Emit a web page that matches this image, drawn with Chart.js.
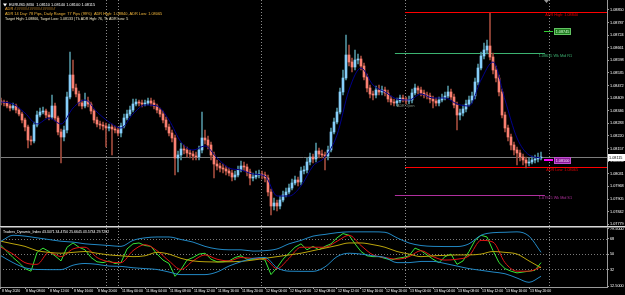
<!DOCTYPE html>
<html>
<head>
<meta charset="utf-8">
<title>EURUSD M30</title>
<script src="https://cdn.jsdelivr.net/npm/chart.js@4.4.1/dist/chart.umd.min.js"></script>
<style>
  html, body { margin: 0; padding: 0; background: #000; }
  #wrap { position: relative; width: 625px; height: 295px; overflow: hidden; background: #000; }
  canvas { position: absolute; left: 0; }
  #main { top: 0; }
  #tdi { top: 226px; }
</style>
</head>
<body>
<div id="wrap">
  <canvas id="main" width="625" height="226"></canvas>
  <canvas id="tdi" width="625" height="69"></canvas>
</div>
<script>
// ---- price bars (30 min), one entry per bar ----
const firstOpen = 1.08395;
const closes = [
  1.08390,1.08385,1.08370,1.08360,1.08370,1.08350,1.08330,1.08300,1.08265,1.08200,
  1.08195,1.08275,1.08325,1.08340,1.08345,1.08325,1.08315,1.08370,1.08310,1.08240,
  1.08215,1.08250,1.08415,1.08525,1.08460,1.08430,1.08385,1.08370,1.08395,1.08380,
  1.08345,1.08300,1.08280,1.08275,1.08270,1.08260,1.08265,1.08255,1.08250,1.08235,
  1.08270,1.08310,1.08330,1.08350,1.08380,1.08390,1.08385,1.08380,1.08385,1.08395,
  1.08385,1.08370,1.08350,1.08330,1.08300,1.08265,1.08235,1.08210,1.08110,1.08125,
  1.08155,1.08150,1.08135,1.08130,1.08120,1.08115,1.08150,1.08210,1.08200,1.08175,
  1.08125,1.08080,1.08070,1.08060,1.08055,1.08045,1.08035,1.08015,1.08025,1.08050,
  1.08070,1.08065,1.08040,1.08010,1.08015,1.08025,1.08030,1.08025,1.08010,1.07940,
  1.07870,1.07885,1.07870,1.07900,1.07925,1.07940,1.07960,1.07985,1.08000,1.07990,
  1.08045,1.08050,1.08090,1.08115,1.08105,1.08145,1.08130,1.08125,1.08120,1.08150,
  1.08240,1.08290,1.08340,1.08440,1.08510,1.08625,1.08590,1.08565,1.08600,1.08605,
  1.08570,1.08515,1.08460,1.08430,1.08425,1.08450,1.08440,1.08450,1.08435,1.08405,
  1.08390,1.08385,1.08395,1.08410,1.08405,1.08395,1.08400,1.08435,1.08460,1.08450,
  1.08435,1.08425,1.08420,1.08405,1.08395,1.08385,1.08400,1.08410,1.08420,1.08440,
  1.08415,1.08375,1.08325,1.08335,1.08355,1.08380,1.08400,1.08420,1.08490,1.08560,
  1.08620,1.08650,1.08670,1.08615,1.08550,1.08510,1.08440,1.08325,1.08260,1.08215,
  1.08175,1.08150,1.08135,1.08115,1.08100,1.08085,1.08090,1.08100,1.08105,1.08110,
  1.08115
];
const highs = [
  1.08410,1.08400,1.08395,1.08380,1.08385,1.08380,1.08360,1.08340,1.08310,1.08275,
  1.08220,1.08290,1.08345,1.08360,1.08365,1.08355,1.08340,1.08425,1.08385,1.08320,
  1.08255,1.08270,1.08440,1.08640,1.08600,1.08480,1.08445,1.08400,1.08435,1.08415,
  1.08390,1.08355,1.08315,1.08295,1.08290,1.08285,1.08280,1.08280,1.08270,1.08265,
  1.08285,1.08330,1.08350,1.08370,1.08405,1.08405,1.08400,1.08400,1.08400,1.08410,
  1.08410,1.08400,1.08380,1.08360,1.08345,1.08315,1.08280,1.08250,1.08225,1.08145,
  1.08185,1.08175,1.08165,1.08150,1.08145,1.08140,1.08170,1.08340,1.08250,1.08220,
  1.08190,1.08140,1.08100,1.08085,1.08080,1.08070,1.08060,1.08050,1.08045,1.08070,
  1.08095,1.08090,1.08080,1.08055,1.08035,1.08045,1.08050,1.08045,1.08040,1.08025,
  1.07955,1.07910,1.07900,1.07920,1.07945,1.07960,1.07980,1.08005,1.08020,1.08015,
  1.08065,1.08070,1.08110,1.08135,1.08130,1.08185,1.08160,1.08150,1.08140,1.08170,
  1.08260,1.08310,1.08360,1.08460,1.08550,1.08725,1.08675,1.08610,1.08650,1.08630,
  1.08620,1.08585,1.08530,1.08475,1.08445,1.08470,1.08475,1.08470,1.08465,1.08450,
  1.08420,1.08405,1.08410,1.08425,1.08425,1.08415,1.08420,1.08455,1.08480,1.08470,
  1.08465,1.08450,1.08440,1.08435,1.08420,1.08410,1.08415,1.08430,1.08440,1.08470,
  1.08455,1.08430,1.08390,1.08355,1.08375,1.08400,1.08420,1.08440,1.08510,1.08580,
  1.08640,1.08685,1.08700,1.08835,1.08635,1.08570,1.08525,1.08455,1.08340,1.08275,
  1.08230,1.08190,1.08165,1.08150,1.08130,1.08115,1.08110,1.08120,1.08125,1.08135,
  1.08140
];
const lows = [
  1.08375,1.08370,1.08360,1.08345,1.08350,1.08335,1.08320,1.08285,1.08245,1.08160,
  1.08175,1.08185,1.08265,1.08315,1.08330,1.08310,1.08300,1.08305,1.08295,1.08225,
  1.08085,1.08195,1.08235,1.08405,1.08445,1.08415,1.08370,1.08355,1.08360,1.08365,
  1.08330,1.08285,1.08265,1.08255,1.08250,1.08165,1.08245,1.08125,1.08235,1.08220,
  1.08215,1.08260,1.08300,1.08320,1.08340,1.08370,1.08370,1.08365,1.08370,1.08375,
  1.08370,1.08355,1.08335,1.08315,1.08285,1.08250,1.08220,1.08190,1.08025,1.08040,
  1.08100,1.08130,1.08115,1.08110,1.08100,1.08100,1.08100,1.08135,1.08180,1.08155,
  1.08100,1.08010,1.08050,1.08040,1.08035,1.08025,1.08020,1.07995,1.08000,1.08015,
  1.08040,1.08045,1.08020,1.07975,1.07995,1.08005,1.08010,1.08005,1.07990,1.07920,
  1.07825,1.07850,1.07845,1.07855,1.07890,1.07915,1.07930,1.07950,1.07975,1.07970,
  1.07975,1.08030,1.08035,1.08075,1.08085,1.08090,1.08110,1.08110,1.08050,1.08100,
  1.08140,1.08230,1.08280,1.08330,1.08425,1.08500,1.08570,1.08540,1.08550,1.08580,
  1.08550,1.08500,1.08440,1.08410,1.08400,1.08410,1.08425,1.08425,1.08420,1.08390,
  1.08375,1.08370,1.08370,1.08385,1.08390,1.08380,1.08380,1.08385,1.08425,1.08430,
  1.08420,1.08410,1.08405,1.08385,1.08360,1.08370,1.08370,1.08390,1.08400,1.08410,
  1.08400,1.08360,1.08250,1.08300,1.08320,1.08340,1.08370,1.08385,1.08405,1.08475,
  1.08550,1.08605,1.08630,1.08600,1.08530,1.08490,1.08420,1.08310,1.08240,1.08195,
  1.08150,1.08125,1.08075,1.08095,1.08075,1.08060,1.08070,1.08080,1.08085,1.08090,
  1.08100
];
// moving average, one value every 4 bars
const maValues = [
  1.08390,1.08380,1.08335,1.08280,1.08310,1.08280,1.08360,1.08400,1.08340,1.08290,
  1.08260,1.08330,1.08375,1.08370,1.08300,1.08190,1.08150,1.08170,1.08110,1.08060,
  1.08050,1.08030,1.08020,1.07920,1.07920,1.07970,1.08070,1.08115,1.08225,1.08450,
  1.08560,1.08475,1.08440,1.08405,1.08400,1.08430,1.08410,1.08410,1.08380,1.08370,
  1.08500,1.08590,1.08400,1.08210,1.08125,1.08110
];
const priceTicks = [1.08850,1.08787,1.08724,1.08661,1.08598,1.08535,1.08472,1.08409,1.08346,
  1.08283,1.08220,1.08157,1.08094,1.08031,1.07968,1.07905,1.07842,1.07779];

const bid = 1.08115;
const levelNames = ['ADR High: 1.08840', 'ADR Low: 1.08065', '1.08635 Wk Mid R1', '1.07925 Wk Mid S1'];
const levelValues = [1.08840, 1.08065, 1.08635, 1.07925];
const markerValues = [1.08745, 1.08100];
const separatorBars = [35, 39, 86.67, 134.67, 182.67];

const headerLines = [
  'EURUSD,M30  1.08110 1.08140 1.08100 1.08115',
  'ADR ###################',
  'ADR 14 Day: 78 Pips, Daily Range: 77 Pips (99%)  ADR High: 1.08840, ADR Low: 1.08065',
  'Target High: 1.08866, Target Low: 1.08133 | Tk ADR Hgh: 76, Tk ADR Low: 5'
];

// ---- Traders Dynamic Index ----
const tdiGreen = [  // every 2 bars
  60,53,46,40,33,30,52,57,53,48,
  42,58,63,58,55,46,41,40,42,39,
  40,56,62,63,60,59,50,43,39,24,
  32,43,46,50,51,44,41,41,42,46,
  48,44,44,45,43,26,34,44,51,58,
  62,55,59,55,59,62,69,74,72,62,
  53,48,47,47,45,43,45,46,48,57,
  54,49,44,40,47,50,38,42,53,66,
  72,70,54,40,33,30,28,29,30,31,
  40
];
const tdiRed = [  // every 4 bars
  58,50,40,38,52,47,56,58,46,41,
  40,54,61,54,42,32,42,49,44,42,
  46,45,44,33,45,58,58,58,65,72,
  60,49,46,44,47,54,47,43,44,48,
  66,64,40,30,30,35
];
const tdiYellow = [
  65,62,59,54,52,51,52,53,51,49,
  48,47,48,52,50,45,42,41,40.7,41,
  41.5,43,45,47,49,51,54,57,60,63,
  63,61,58,53,50,47,48,48.5,49,49,
  50,53,52,50,42,34
];
const tdiUpper = [
  65,72,71,69,67,65,64,62,61,60,
  59,66,69,70,70,67,64,59,56,55,
  55,53.5,54,56,62,66,71,73,75,76,
  76,76,75.5,69,63,60,59,58.8,58.8,62,
  72,75,75.5,76,71,52
];
const tdiLower = [
  48,40,34,32,31.8,31.8,37,39,38,36,
  35.6,34,33,32,29,26,26,26,29,36,
  41,45,46,34,30,29.8,29.8,35,47,51,
  50,48,46,40,40,41.4,41.4,39,36,33,
  31,29,27,22,17,24
];
const tdiLevels = [32, 50, 68];
const tdiTicks = [12.5, 32, 50, 68, 79.5];
const tdiTickLabels = ['12.5000', '32', '50', '68', '79.5000'];
const tdiTitle = 'Traders_Dynamic_Index 43.3471 34.4750 25.6645 43.5734 29.7282';

const timeLabels = ['8 May 2020','8 May 08:00','8 May 12:00','8 May 16:00','8 May 20:00',
  '11 May 00:00','11 May 04:00','11 May 08:00','11 May 12:00','11 May 16:00','11 May 20:00',
  '12 May 00:00','12 May 04:00','12 May 08:00','12 May 12:00','12 May 16:00','12 May 20:00',
  '13 May 00:00','13 May 04:00','13 May 08:00','13 May 12:00','13 May 16:00','13 May 20:00'];
const barsPerLabel = 8;

// ---- styles ----
const FONT = '"Liberation Sans", Arial, sans-serif';
const BULL = '#87cefa', BEAR = '#fa8072';
const BULL_WICK = '#4f8f9c', BEAR_WICK = '#a04a3c';
const AXIS = '#9a9a9a';
const X_MIN = -1 / 3, X_MAX = 202;
const levelStyle = [
  { line: '#ff0000', text: '#e00000', from: 134.67, to: X_MAX, right: 578 },
  { line: '#ff0000', text: '#e00000', from: 134.67, to: X_MAX, right: 578 },
  { line: '#3cb371', text: '#3cb371', from: 131.3, to: 181.3, right: 572 },
  { line: '#b0309e', text: '#b0309e', from: 131.3, to: 181.3, right: 572 }
];
const markerStyle = [
  { line: '#32cd32', fill: '#1d7a1d', stroke: '#62c462', text: '#d8ffd8', w: 1 },
  { line: '#ff00ff', fill: '#8a1a98', stroke: '#c050d0', text: '#ffe0ff', w: 2 }
];

Chart.defaults.font.family = FONT;
Chart.defaults.font.size = 3.8;
Chart.defaults.color = '#ffffff';
Chart.defaults.animation = false;

const opens = closes.map((c, i) => i === 0 ? firstOpen : closes[i - 1]);
const isBull = i => closes[i] >= opens[i];
const sampled = (values, step) => values.map((v, k) => ({ x: k * step, y: v }));

function hline(ctx, x1, x2, py, color, w) {
  ctx.strokeStyle = color;
  ctx.lineWidth = w;
  const yy = Math.round(py) + (w % 2 ? 0.5 : 0);
  ctx.beginPath(); ctx.moveTo(x1, yy); ctx.lineTo(x2, yy); ctx.stroke();
}
function dottedV(ctx, px, top, bottom) {
  const xx = Math.round(px) + 0.5;
  ctx.save();
  ctx.strokeStyle = '#8c8c8c'; ctx.lineWidth = 1; ctx.setLineDash([1, 2]);
  ctx.beginPath(); ctx.moveTo(xx, top); ctx.lineTo(xx, bottom); ctx.stroke();
  ctx.restore();
}
function txt(ctx, str, px, py, color, size, align, base) {
  ctx.font = size + 'px ' + FONT;
  ctx.fillStyle = color;
  ctx.textAlign = align || 'left';
  ctx.textBaseline = base || 'top';
  ctx.fillText(str, px, py);
}

const mainOverlay = {
  id: 'mainOverlay',
  beforeDatasetsDraw(chart) {
    const { ctx, chartArea: a, scales: { x, y } } = chart;
    ctx.save();
    separatorBars.forEach(b => dottedV(ctx, x.getPixelForValue(b), a.top, a.bottom));
    hline(ctx, a.left, a.right, y.getPixelForValue(bid), '#7c7c7c', 1);
    levelValues.forEach((v, k) => {
      const s = levelStyle[k];
      hline(ctx, x.getPixelForValue(s.from), x.getPixelForValue(s.to), y.getPixelForValue(v), s.line, 1);
    });
    ctx.restore();
  },
  afterDraw(chart) {
    const { ctx, chartArea: a, scales: { x, y } } = chart;
    ctx.save();
    // left frame
    ctx.fillStyle = '#6a6a6a'; ctx.fillRect(0, 0, 1, a.bottom);
    // level captions
    levelValues.forEach((v, k) => {
      const s = levelStyle[k];
      txt(ctx, levelNames[k], s.right, Math.round(y.getPixelForValue(v)) + 1.5, s.text, 3.8, 'right', 'top');
    });
    // price markers
    markerValues.forEach((v, k) => {
      const s = markerStyle[k];
      const py = Math.round(y.getPixelForValue(v));
      hline(ctx, 544, 553, py, s.line, s.w);
      ctx.fillStyle = s.fill; ctx.fillRect(554, py - 3, 17, 7);
      ctx.strokeStyle = s.stroke; ctx.lineWidth = 1; ctx.strokeRect(554.5, py - 2.5, 16, 6);
      txt(ctx, v.toFixed(5), 562.5, py + 0.5, s.text, 3.8, 'center', 'middle');
    });
    // bid box on the axis
    const by = Math.round(y.getPixelForValue(bid));
    ctx.fillStyle = '#ffffff'; ctx.fillRect(a.right + 1, by - 3, 17, 7);
    txt(ctx, bid.toFixed(5), a.right + 2, by + 0.5, '#000000', 3.8, 'left', 'middle');
    // ADR open caption
    txt(ctx, 'ADR Open', 397, 104, '#8a9a8a', 3.6, 'left', 'top');
    // header
    ctx.fillStyle = '#ffffff';
    ctx.beginPath(); ctx.moveTo(3, 3.5); ctx.lineTo(7, 3.5); ctx.lineTo(5, 6.5); ctx.closePath(); ctx.fill();
    txt(ctx, headerLines[0], 9, 5, '#ffffff', 3.9, 'left', 'middle');
    txt(ctx, headerLines[1], 5, 8.7, '#e8a030', 3.9, 'left', 'middle');
    txt(ctx, headerLines[2], 5, 14.2, '#f2b63c', 3.9, 'left', 'middle');
    txt(ctx, headerLines[3], 5, 18.5, '#f0e8c8', 3.6, 'left', 'middle');
    // shift marker
    ctx.fillStyle = '#9a9a9a';
    ctx.beginPath(); ctx.moveTo(544, 0); ctx.lineTo(549, 0); ctx.lineTo(546.5, 3); ctx.closePath(); ctx.fill();
    ctx.restore();
  }
};

const mainChart = new Chart(document.getElementById('main'), {
  type: 'bar',
  data: {
    datasets: [
      {
        label: 'wicks', order: 3, grouped: false, barThickness: 1,
        data: closes.map((c, i) => ({ x: i, y: [lows[i], highs[i]] })),
        backgroundColor: c => isBull(c.dataIndex) ? BULL_WICK : BEAR_WICK
      },
      {
        label: 'bodies', order: 2, grouped: false, barThickness: 2, minBarLength: 1,
        data: closes.map((c, i) => ({ x: i, y: [opens[i], c] })),
        backgroundColor: c => isBull(c.dataIndex) ? BULL : BEAR
      },
      {
        type: 'line', label: 'MA', order: 1,
        data: sampled(maValues, 4),
        borderColor: '#00008c', borderWidth: 1, pointRadius: 0,
        cubicInterpolationMode: 'monotone'
      }
    ]
  },
  options: {
    responsive: false,
    animation: false,
    layout: { padding: 0 },
    plugins: { legend: { display: false }, tooltip: { enabled: false } },
    scales: {
      x: { type: 'linear', min: X_MIN, max: X_MAX, offset: false, display: false },
      y: {
        position: 'right',
        min: 1.07770, max: 1.08900,
        afterBuildTicks: s => { s.ticks = priceTicks.map(v => ({ value: v })); },
        afterFit: s => { s.width = 18; s.paddingTop = 0; s.paddingBottom = 0; },
        ticks: { callback: v => v.toFixed(5), color: '#ffffff', font: { size: 3.8 }, padding: 1 },
        grid: { drawOnChartArea: false, drawTicks: true, tickLength: 2, color: AXIS },
        border: { display: true, color: AXIS }
      }
    }
  },
  plugins: [mainOverlay]
});

const tdiOverlay = {
  id: 'tdiOverlay',
  beforeDatasetsDraw(chart) {
    const { ctx, chartArea: a, scales: { x, y } } = chart;
    ctx.save();
    ctx.strokeStyle = '#7a7a7a'; ctx.lineWidth = 1; ctx.setLineDash([1, 2]);
    tdiLevels.forEach(v => {
      const yy = Math.round(y.getPixelForValue(v)) + 0.5;
      ctx.beginPath(); ctx.moveTo(a.left, yy); ctx.lineTo(a.right, yy); ctx.stroke();
    });
    ctx.setLineDash([]);
    separatorBars.forEach(b => dottedV(ctx, x.getPixelForValue(b), a.top, a.bottom));
    ctx.restore();
  },
  afterDraw(chart) {
    const { ctx, chartArea: a } = chart;
    ctx.save();
    ctx.fillStyle = '#d8d8d8'; ctx.fillRect(0, 0, chart.width, 1);
    ctx.fillStyle = '#707070'; ctx.fillRect(0, 1, chart.width, 1);
    ctx.fillStyle = '#6a6a6a'; ctx.fillRect(0, a.top, 1, a.bottom - a.top);
    txt(ctx, tdiTitle, 3, a.top + 2, '#ffffff', 3.5, 'left', 'top');
    ctx.restore();
  }
};

const tdiChart = new Chart(document.getElementById('tdi'), {
  type: 'line',
  data: {
    datasets: [
      { label: 'Upper', data: sampled(tdiUpper, 4), borderColor: '#2288c4' },
      { label: 'Lower', data: sampled(tdiLower, 4), borderColor: '#2288c4' },
      { label: 'Base', data: sampled(tdiYellow, 4), borderColor: '#bba50c' },
      { label: 'Signal', data: sampled(tdiRed, 4), borderColor: '#e01414' },
      { label: 'RSI', data: sampled(tdiGreen, 2), borderColor: '#36e636', cubicInterpolationMode: 'default', tension: 0 }
    ]
  },
  options: {
    responsive: false,
    animation: false,
    layout: { padding: { top: 2, left: 0, right: 0, bottom: 0 } },
    elements: { line: { borderWidth: 1, cubicInterpolationMode: 'monotone' }, point: { radius: 0 } },
    plugins: { legend: { display: false }, tooltip: { enabled: false } },
    scales: {
      x: {
        type: 'linear', min: X_MIN, max: X_MAX, offset: false,
        afterBuildTicks: s => { s.ticks = timeLabels.map((t, k) => ({ value: k * barsPerLabel })); },
        afterFit: s => { s.height = 8; s.paddingLeft = 0; s.paddingRight = 0; },
        ticks: { autoSkip: false, maxRotation: 0, align: 'start', padding: 0, color: '#ffffff',
                 font: { size: 3.5 }, callback: (v, k) => ' ' + timeLabels[k] },
        grid: { drawOnChartArea: false, drawTicks: true, tickLength: 2, color: AXIS },
        border: { display: true, color: AXIS }
      },
      y: {
        position: 'right', min: 11.5, max: 80.5,
        afterBuildTicks: s => { s.ticks = tdiTicks.map(v => ({ value: v })); },
        afterFit: s => { s.width = 18; s.paddingTop = 0; s.paddingBottom = 0; },
        ticks: { color: '#ffffff', font: { size: 3.8 }, padding: 1,
                 callback: (v, k) => tdiTickLabels[k] },
        grid: { drawOnChartArea: false, drawTicks: true, tickLength: 2, color: AXIS },
        border: { display: true, color: AXIS }
      }
    }
  },
  plugins: [tdiOverlay]
});
</script>
</body>
</html>
